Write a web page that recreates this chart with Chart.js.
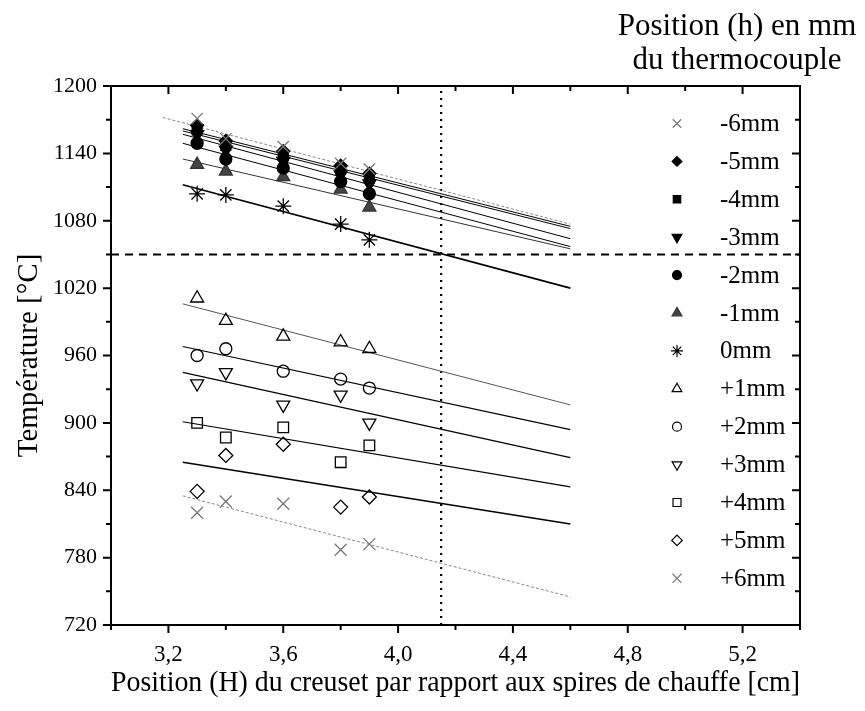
<!DOCTYPE html>
<html>
<head>
<meta charset="utf-8">
<script src="https://cdn.jsdelivr.net/npm/chart.js@4.4.0/dist/chart.umd.min.js"></script>
<style>
  html, body { margin: 0; padding: 0; background: #fff; }
  #wrap { width: 865px; height: 711px; }
</style>
</head>
<body>
<div id="wrap"><canvas id="chart1"></canvas></div>
<script>
// crucible positions (H) where the thermocouple was read, in cm
var positions = [3.3, 3.4, 3.6, 3.8, 3.9];

// thermocouple position (h) labels
var seriesNames = ["-6mm", "-5mm", "-4mm", "-3mm", "-2mm", "-1mm", "0mm",
  "+1mm", "+2mm", "+3mm", "+4mm", "+5mm", "+6mm"];

// measured temperatures [°C]
var tMinus6 = [1171, 1153, 1146, 1131, 1126];
var tMinus5 = [1165, 1151, 1142, 1129, 1122];
var tMinus4 = [1161, 1147, 1138, 1126, 1118];
var tMinus3 = [1157, 1143, 1133, 1121, 1113];
var tMinus2 = [1149, 1135, 1127, 1115, 1104];
var tMinus1 = [1130, 1124, 1119, 1108, 1092];
var tZero = [1104, 1103, 1093, 1077, 1063];
var tPlus1 = [1011, 991, 977, 972, 966];
var tPlus2 = [960, 966, 946, 939, 931];
var tPlus3 = [935, 945, 916, 925, 900];
var tPlus4 = [900, 887, 896, 865, 880];
var tPlus5 = [839, 871, 881, 825, 834];
var tPlus6 = [820, 830, 828, 787, 792];

// fitted lines: start / end of each line
var fitStartX = [3.18, 3.25, 3.25, 3.25, 3.25, 3.25, 3.25, 3.25, 3.25, 3.25, 3.25, 3.25, 3.25];
var fitStartY = [1172, 1162, 1160, 1157, 1149, 1135, 1112, 1006, 968, 945, 901, 865, 835];
var fitEndX = [4.6, 4.6, 4.6, 4.6, 4.6, 4.6, 4.6, 4.6, 4.6, 4.6, 4.6, 4.6, 4.6];
var fitEndY = [1077, 1075, 1073, 1064, 1057, 1055, 1020, 916, 894, 869, 843, 810, 745];

// reference lines
var refTemp = 1050;
var refPosition = 4.15;

var xMin = 3.0, xMax = 5.4, yMin = 720, yMax = 1200;

var allTemps = [tMinus6, tMinus5, tMinus4, tMinus3, tMinus2, tMinus1, tZero,
  tPlus1, tPlus2, tPlus3, tPlus4, tPlus5, tPlus6];

// marker look for each series
var markers = [
  { style: "crossRot", rot: 0, r: 8, fill: "transparent", stroke: "#777" },
  { style: "rectRot", rot: 0, r: 6.5, fill: "#000", stroke: "#000" },
  { style: "rect", rot: 0, r: 7, fill: "#000", stroke: "#000" },
  { style: "triangle", rot: 180, r: 7.5, fill: "#000", stroke: "#000" },
  { style: "circle", rot: 0, r: 6, fill: "#000", stroke: "#000" },
  { style: "triangle", rot: 0, r: 7.5, fill: "#444", stroke: "#333" },
  { style: "star", rot: 0, r: 8, fill: "#000", stroke: "#000" },
  { style: "triangle", rot: 0, r: 7.5, fill: "transparent", stroke: "#000" },
  { style: "circle", rot: 0, r: 6, fill: "transparent", stroke: "#000" },
  { style: "triangle", rot: 180, r: 7.5, fill: "transparent", stroke: "#000" },
  { style: "rect", rot: 0, r: 7.5, fill: "transparent", stroke: "#000" },
  { style: "rectRot", rot: 0, r: 7, fill: "transparent", stroke: "#000" },
  { style: "crossRot", rot: 0, r: 8.5, fill: "transparent", stroke: "#777" }
];

var lineColors = ["#888", "#000", "#000", "#000", "#000", "#333", "#000",
  "#555", "#000", "#000", "#000", "#000", "#888"];
var lineWidths = [1, 1, 1, 1, 1, 1, 1.6, 1, 1.2, 1.2, 1.2, 1.5, 1];

var datasets = [];
allTemps.forEach(function (vals, i) {
  var m = markers[i];
  datasets.push({
    label: seriesNames[i],
    data: positions.map(function (p, j) { return { x: p, y: vals[j] }; }),
    pointStyle: m.style,
    rotation: m.rot,
    pointRadius: m.r,
    backgroundColor: m.fill,
    borderColor: m.stroke,
    pointBorderWidth: 1.3,
    showLine: false
  });
});
allTemps.forEach(function (vals, i) {
  datasets.push({
    label: "fit " + seriesNames[i],
    data: [{ x: fitStartX[i], y: fitStartY[i] }, { x: fitEndX[i], y: fitEndY[i] }],
    showLine: true,
    pointRadius: 0,
    borderColor: lineColors[i],
    borderWidth: lineWidths[i],
    borderDash: (i === 0 || i === 12) ? [3, 2] : []
  });
});
datasets.push({
  label: "ref temp",
  data: [{ x: xMin, y: refTemp }, { x: xMax, y: refTemp }],
  showLine: true, pointRadius: 0, borderColor: "#000", borderWidth: 2, borderDash: [8, 6]
});
datasets.push({
  label: "ref position",
  data: [{ x: refPosition, y: yMin }, { x: refPosition, y: yMax }],
  showLine: true, pointRadius: 0, borderColor: "#000", borderWidth: 2.2, borderDash: [2, 5]
});

var serif = "'Liberation Serif', 'Times New Roman', serif";

// frame, tick marks, in-plot legend and the top-right heading
var decor = {
  id: "decor",
  afterDraw: function (chart) {
    var ctx = chart.ctx;
    var a = chart.chartArea;
    var xs = chart.scales.x, ys = chart.scales.y;
    ctx.save();
    ctx.strokeStyle = "#000";
    ctx.lineWidth = 2;
    ctx.setLineDash([]);
    ctx.strokeRect(a.left, a.top, a.right - a.left, a.bottom - a.top);

    ctx.lineWidth = 2;
    for (var v = 30; v <= 54; v += 2) {
      var xv = v / 10;
      var px = xs.getPixelForValue(xv);
      var len = (v % 4 === 0) ? 8 : 5;
      ctx.beginPath();
      ctx.moveTo(px, a.bottom); ctx.lineTo(px, a.bottom + len);
      ctx.moveTo(px, a.top); ctx.lineTo(px, a.top + len);
      ctx.stroke();
    }
    for (var t = yMin; t <= yMax; t += 30) {
      var py = ys.getPixelForValue(t);
      var l2 = ((t - yMin) % 60 === 0) ? 8 : 5;
      ctx.beginPath();
      ctx.moveTo(a.left, py); ctx.lineTo(a.left - l2, py);
      ctx.moveTo(a.right, py); ctx.lineTo(a.right - l2, py);
      ctx.stroke();
    }

    // legend
    var mx = a.right - 123, tx = a.right - 80;
    var y0 = a.top + 37.5, step = 37.9;
    ctx.font = "25px " + serif;
    ctx.textBaseline = "middle";
    ctx.textAlign = "left";
    seriesNames.forEach(function (name, i) {
      var m = markers[i];
      var cy = y0 + i * step;
      ctx.fillStyle = m.fill;
      ctx.strokeStyle = m.stroke;
      ctx.lineWidth = 1.2;
      if (Chart.helpers && Chart.helpers.drawPoint) {
        Chart.helpers.drawPoint(ctx, { pointStyle: m.style, rotation: m.rot, radius: m.r * 0.75, borderWidth: 1.2 }, mx, cy);
      }
      ctx.fillStyle = "#000";
      ctx.fillText(name, tx, cy + 1);
    });

    // heading
    ctx.font = "31px " + serif;
    ctx.textAlign = "center";
    ctx.fillStyle = "#000";
    ctx.fillText("Position (h) en mm", 737, 27);
    ctx.fillText("du thermocouple", 737, 61);
    ctx.restore();
  }
};

Chart.defaults.font.family = serif;
Chart.defaults.color = "#000";

var myChart = new Chart(document.getElementById("chart1"), {
  type: "scatter",
  data: { datasets: datasets },
  options: {
    responsive: true,
    maintainAspectRatio: false,
    animation: false,
    events: [],
    layout: { padding: { top: 86, right: 65, left: 0, bottom: 0 } },
    plugins: {
      legend: { display: false },
      tooltip: { enabled: false }
    },
    scales: {
      x: {
        type: "linear",
        min: xMin,
        max: xMax,
        grid: { display: false },
        border: { display: false },
        ticks: {
          stepSize: 0.2,
          padding: 8,
          autoSkip: false,
          maxRotation: 0,
          font: { size: 23 },
          color: "#000",
          callback: function (value) {
            var k = Math.round(value * 10);
            if (k % 4 === 0 && k >= 32) return (k / 10).toFixed(1).replace(".", ",");
            return "";
          }
        },
        title: {
          display: true,
          text: "Position (H) du creuset par rapport aux spires de chauffe [cm]",
          font: { size: 29 },
          color: "#000",
          padding: { top: 0, bottom: 10 }
        },
        afterFit: function (scale) { scale.height = 86; }
      },
      y: {
        type: "linear",
        min: yMin,
        max: yMax,
        grid: { display: false },
        border: { display: false },
        ticks: {
          stepSize: 30,
          padding: 6,
          autoSkip: false,
          font: { size: 22 },
          color: "#000",
          callback: function (value) {
            return ((value - yMin) % 60 === 0) ? String(value) : "";
          }
        },
        title: {
          display: true,
          text: "Température [°C]",
          font: { size: 29 },
          color: "#000",
          padding: { top: 12, bottom: 0 }
        },
        afterFit: function (scale) { scale.width = 111; }
      }
    }
  },
  plugins: [decor]
});
</script>
</body>
</html>
